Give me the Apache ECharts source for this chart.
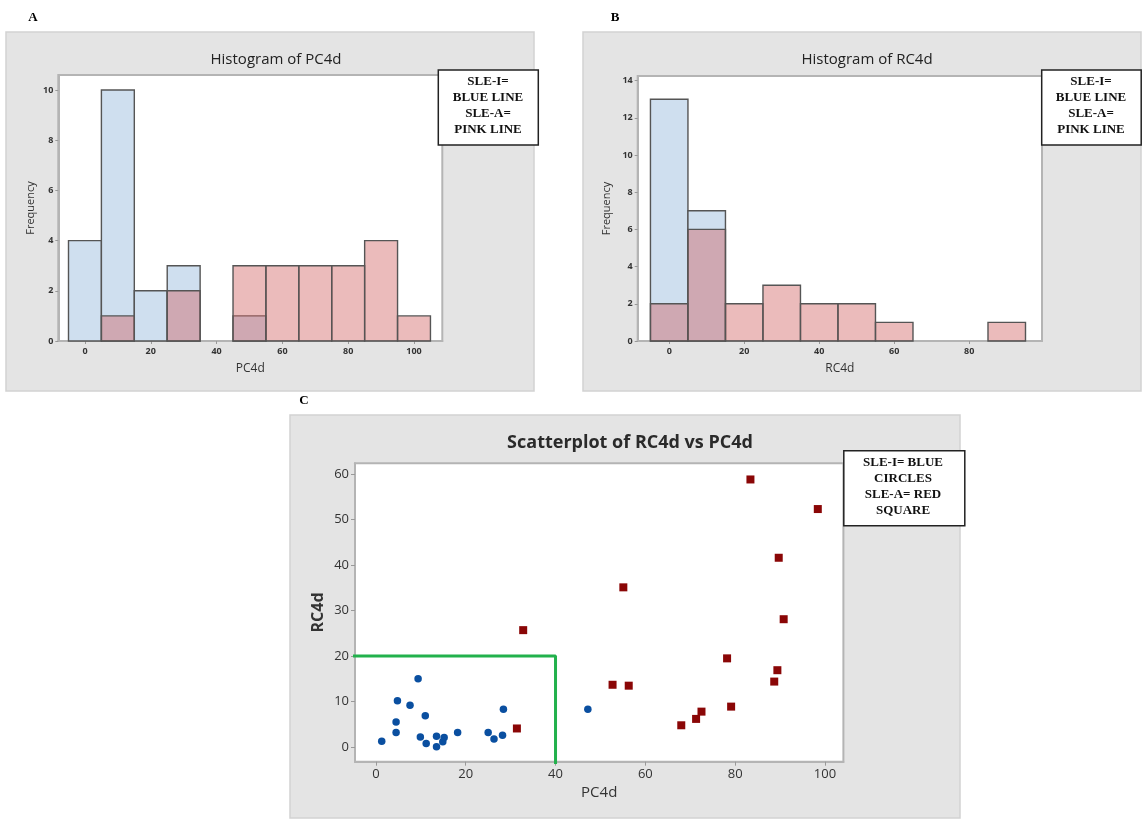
<!DOCTYPE html>
<html>
<head>
<meta charset="utf-8">
<script src="https://cdn.jsdelivr.net/npm/echarts@6/dist/echarts.min.js"></script>
<style>
html,body{margin:0;padding:0;background:#fff;}
#main{width:1144px;height:821px;}
</style>
</head>
<body>
<div id="main"></div>
<script>
// ---------- DATA ----------
const binWidth = 10;
const binsPC4d = [0, 10, 20, 30, 40, 50, 60, 70, 80, 90, 100];
const pcSLEI = [4, 10, 2, 3, 0, 1, 0, 0, 0, 0, 0];
const pcSLEA = [0, 1, 0, 2, 0, 3, 3, 3, 3, 4, 1];

const binsRC4d = [0, 10, 20, 30, 40, 50, 60, 70, 80, 90];
const rcSLEI = [13, 7, 0, 0, 0, 0, 0, 0, 0, 0];
const rcSLEA = [2, 6, 2, 3, 2, 2, 1, 0, 0, 1];

const sleiPC4d = [1.3, 4.5, 4.5, 4.8, 7.6, 9.4, 9.9, 11.0, 11.2, 13.5, 13.5, 14.9, 15.2, 18.2, 25.0, 26.3, 28.2, 28.4, 47.2];
const sleiRC4d = [1.3, 3.2, 5.5, 10.2, 9.2, 15.0, 2.2, 6.9, 0.8, 2.4, 0.1, 1.2, 2.1, 3.2, 3.2, 1.8, 2.6, 8.3, 8.3];
const sleaPC4d = [31.4, 32.8, 52.7, 55.1, 56.3, 68.0, 71.3, 72.5, 78.2, 79.1, 83.4, 88.7, 89.4, 89.7, 90.8, 98.4];
const sleaRC4d = [4.1, 25.7, 13.7, 35.1, 13.5, 4.8, 6.2, 7.8, 19.5, 8.9, 58.8, 14.4, 16.9, 41.6, 28.1, 52.3];

const greenBoxX = [-5.3, 40, 40];
const greenBoxY = [20, 20, -3.7];

const ticksPCx = [0, 20, 40, 60, 80, 100];
const ticksFreqA = [0, 2, 4, 6, 8, 10];
const ticksRCx = [0, 20, 40, 60, 80];
const ticksFreqB = [0, 2, 4, 6, 8, 10, 12, 14];
const ticksScatX = [0, 20, 40, 60, 80, 100];
const ticksScatY = [0, 10, 20, 30, 40, 50, 60];

const legendA = ['SLE-I=', 'BLUE LINE', 'SLE-A=', 'PINK LINE'];
const legendB = ['SLE-I=', 'BLUE LINE', 'SLE-A=', 'PINK LINE'];
const legendC = ['SLE-I= BLUE', 'CIRCLES', 'SLE-A= RED', 'SQUARE'];

// ---------- HELPERS ----------
const FONT = "'Open Sans', 'Noto Sans', sans-serif";
const SERIF = "'Liberation Serif', 'DejaVu Serif', serif";

function zipPairs(a, b) { return a.map((v, i) => [v, b[i]]); }

function histRender(fill) {
  return function (params, api) {
    const x = api.value(0), h = api.value(1);
    if (!h) return null;
    const p0 = api.coord([x - binWidth / 2, h]);
    const p1 = api.coord([x + binWidth / 2, 0]);
    return {
      type: 'rect',
      shape: { x: p0[0], y: p0[1], width: p1[0] - p0[0], height: p1[1] - p0[1] },
      style: { fill: fill, stroke: '#555555', lineWidth: 1.4 }
    };
  };
}

function histAxisX(idx, min, max, ticks, name, gap) {
  return {
    type: 'value', gridIndex: idx, min: min, max: max,
    name: name, nameLocation: 'middle', nameGap: gap,
    nameTextStyle: { fontFamily: FONT, fontSize: 12, color: '#333' },
    splitLine: { show: false },
    axisLine: { show: true, onZero: false, lineStyle: { color: '#b4b4b4', width: 2 } },
    axisTick: { show: true, length: 3, lineStyle: { color: '#999' }, customValues: ticks },
    axisLabel: { customValues: ticks, fontFamily: FONT, fontSize: 9, fontWeight: 'bold', color: '#333', margin: 6 }
  };
}
function histAxisY(idx, min, max, ticks, gap) {
  return {
    type: 'value', gridIndex: idx, min: min, max: max,
    name: 'Frequency', nameLocation: 'middle', nameGap: gap, nameRotate: 90,
    nameTextStyle: { fontFamily: FONT, fontSize: 11, color: '#333' },
    splitLine: { show: false },
    axisLine: { show: true, onZero: false, lineStyle: { color: '#b4b4b4', width: 2 } },
    axisTick: { show: true, length: 3, lineStyle: { color: '#999' }, customValues: ticks },
    axisLabel: { customValues: ticks, fontFamily: FONT, fontSize: 9, fontWeight: 'bold', color: '#333', margin: 5 }
  };
}

function legendBox(x, y, w, h, lines, cx, y0, lh) {
  const els = [{
    type: 'rect', z: 100,
    shape: { x: x, y: y, width: w, height: h },
    style: { fill: '#ffffff', stroke: '#222222', lineWidth: 1.5 }
  }];
  lines.forEach((t, i) => {
    els.push({
      type: 'text', z: 101, x: cx, y: y0 + i * lh,
      style: { text: t, fill: '#111', font: 'bold 13px ' + SERIF, textAlign: 'center', textVerticalAlign: 'middle' }
    });
  });
  return els;
}

const graphics = [
  { type: 'rect', z: -100, shape: { x: 6, y: 32, width: 528, height: 359 }, style: { fill: '#e4e4e4', stroke: '#d2d2d2', lineWidth: 1.5 } },
  { type: 'rect', z: -100, shape: { x: 583, y: 32, width: 558, height: 359 }, style: { fill: '#e4e4e4', stroke: '#d2d2d2', lineWidth: 1.5 } },
  { type: 'rect', z: -100, shape: { x: 290, y: 415, width: 670, height: 403 }, style: { fill: '#e4e4e4', stroke: '#d2d2d2', lineWidth: 1.5 } },
  { type: 'text', x: 33, y: 18, style: { text: 'A', fill: '#000', font: 'bold 13px ' + SERIF, textAlign: 'center', textVerticalAlign: 'middle' } },
  { type: 'text', x: 615, y: 18, style: { text: 'B', fill: '#000', font: 'bold 13px ' + SERIF, textAlign: 'center', textVerticalAlign: 'middle' } },
  { type: 'text', x: 304, y: 401, style: { text: 'C', fill: '#000', font: 'bold 13px ' + SERIF, textAlign: 'center', textVerticalAlign: 'middle' } }
].concat(
  legendBox(438.3, 70, 100, 75, legendA, 488, 82, 16),
  legendBox(1041.7, 70, 99.5, 75, legendB, 1091, 82, 16),
  legendBox(843.8, 450.7, 121, 75, legendC, 903, 463, 16)
);

const option = {
  backgroundColor: '#ffffff',
  animation: false,
  title: [
    { text: 'Histogram of PC4d', left: 271, top: 47, textAlign: 'center', textStyle: { fontFamily: FONT, fontSize: 15, fontWeight: 'normal', color: '#222' } },
    { text: 'Histogram of RC4d', left: 862, top: 47, textAlign: 'center', textStyle: { fontFamily: FONT, fontSize: 15, fontWeight: 'normal', color: '#222' } },
    { text: 'Scatterplot of RC4d vs PC4d', left: 625, top: 429, textAlign: 'center', textStyle: { fontFamily: FONT, fontSize: 18, fontWeight: 'bold', color: '#2a2a2a' } }
  ],
  grid: [
    { left: 58.3, top: 75, width: 384, height: 266, show: true, backgroundColor: '#fff', borderColor: '#b4b4b4', borderWidth: 2 },
    { left: 637.7, top: 76, width: 404.3, height: 265, show: true, backgroundColor: '#fff', borderColor: '#b4b4b4', borderWidth: 2 },
    { left: 355, top: 463.3, width: 488.4, height: 298.4, show: true, backgroundColor: '#fff', borderColor: '#b4b4b4', borderWidth: 2 }
  ],
  xAxis: [
    histAxisX(0, -8.1, 108.6, ticksPCx, 'PC4d', 22),
    histAxisX(1, -8.4, 99.4, ticksRCx, 'RC4d', 22),
    {
      type: 'value', gridIndex: 2, min: -4.65, max: 104.1,
      name: 'PC4d', nameLocation: 'middle', nameGap: 24,
      nameTextStyle: { fontFamily: FONT, fontSize: 15, color: '#333' },
      splitLine: { show: false },
      axisLine: { show: true, onZero: false, lineStyle: { color: '#b4b4b4', width: 2 } },
      axisTick: { show: true, length: 4, lineStyle: { color: '#999' }, customValues: ticksScatX },
      axisLabel: { customValues: ticksScatX, fontFamily: FONT, fontSize: 13, color: '#333', margin: 6 }
    }
  ],
  yAxis: [
    histAxisY(0, 0, 10.6, ticksFreqA, 22),
    histAxisY(1, 0, 14.25, ticksFreqB, 25),
    {
      type: 'value', gridIndex: 2, min: -3.2, max: 62.35,
      name: 'RC4d', nameLocation: 'middle', nameGap: 29, nameRotate: 90,
      nameTextStyle: { fontFamily: FONT, fontSize: 16, fontWeight: 'bold', color: '#333' },
      splitLine: { show: false },
      axisLine: { show: true, onZero: false, lineStyle: { color: '#b4b4b4', width: 2 } },
      axisTick: { show: true, length: 4, lineStyle: { color: '#999' }, customValues: ticksScatY },
      axisLabel: { customValues: ticksScatY, fontFamily: FONT, fontSize: 13, color: '#333', margin: 6 }
    }
  ],
  graphic: { elements: graphics },
  series: [
    { type: 'custom', name: 'SLE-I PC4d', xAxisIndex: 0, yAxisIndex: 0, z: 2, renderItem: histRender('#cfdfef'), data: zipPairs(binsPC4d, pcSLEI) },
    { type: 'custom', name: 'SLE-A PC4d', xAxisIndex: 0, yAxisIndex: 0, z: 3, renderItem: histRender('rgba(207,94,94,0.42)'), data: zipPairs(binsPC4d, pcSLEA) },
    { type: 'custom', name: 'SLE-I RC4d', xAxisIndex: 1, yAxisIndex: 1, z: 2, renderItem: histRender('#cfdfef'), data: zipPairs(binsRC4d, rcSLEI) },
    { type: 'custom', name: 'SLE-A RC4d', xAxisIndex: 1, yAxisIndex: 1, z: 3, renderItem: histRender('rgba(207,94,94,0.42)'), data: zipPairs(binsRC4d, rcSLEA) },
    {
      type: 'line', name: 'cutoff', xAxisIndex: 2, yAxisIndex: 2, z: 2, clip: false,
      data: zipPairs(greenBoxX, greenBoxY), symbol: 'none',
      lineStyle: { color: '#22b14c', width: 3 }
    },
    {
      type: 'scatter', name: 'SLE-I', xAxisIndex: 2, yAxisIndex: 2, z: 4,
      data: zipPairs(sleiPC4d, sleiRC4d), symbol: 'circle', symbolSize: 7.5,
      itemStyle: { color: '#0a4fa0', opacity: 1 }
    },
    {
      type: 'scatter', name: 'SLE-A', xAxisIndex: 2, yAxisIndex: 2, z: 4,
      data: zipPairs(sleaPC4d, sleaRC4d), symbol: 'rect', symbolSize: 8,
      itemStyle: { color: '#8a0606', opacity: 1 }
    }
  ]
};

const chart = echarts.init(document.getElementById('main'), null, { renderer: 'canvas' });
chart.setOption(option);
</script>
</body>
</html>
